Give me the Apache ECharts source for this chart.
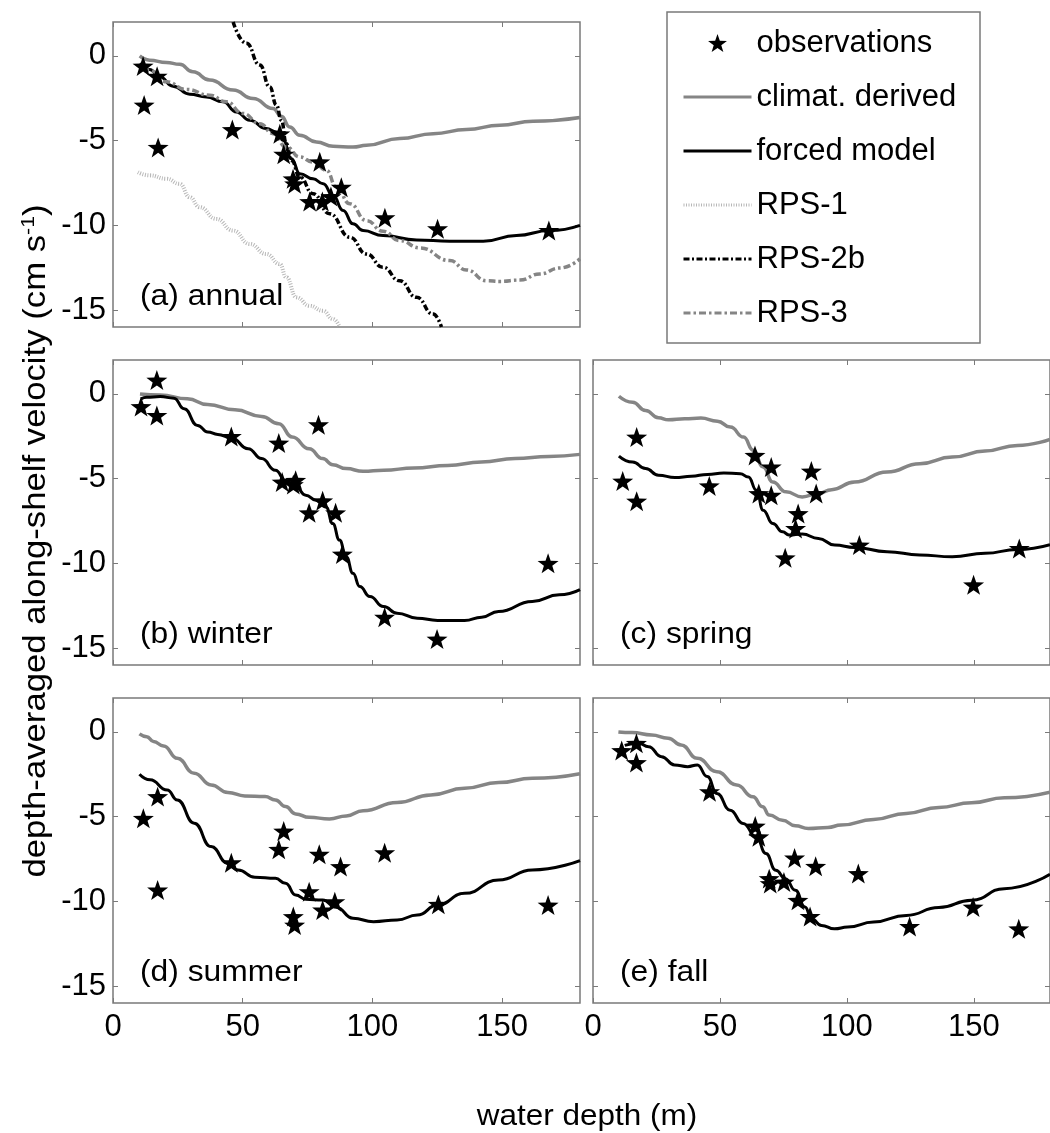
<!DOCTYPE html>
<html>
<head>
<meta charset="utf-8">
<script src="https://cdn.jsdelivr.net/npm/echarts@6/dist/echarts.min.js"></script>
<style>
  html, body { margin: 0; padding: 0; background: #fff; }
  #chart { width: 1050px; height: 1133px; }
</style>
</head>
<body>
<div id="chart"></div>
<script>
// tick values
const xTicks = [0, 50, 100, 150];
const yTicks = [-15, -10, -5, 0];

// (a) annual
const annualObs = [[11.6,-0.6],[12.0,-2.9],[17.0,-1.2],[17.4,-5.4],[46.0,-4.35],[64.3,-4.6],[65.8,-5.8],[69.4,-7.25],[70.0,-7.55],[75.8,-8.6],[80.7,-8.6],[79.7,-6.25],[84.0,-8.3],[88.0,-7.75],[104.8,-9.55],[125.1,-10.2],[168.0,-10.3]];
const annualClim = [[10.3,0],[14.1,-0.25],[20.6,-0.39],[25.7,-0.5],[30.8,-0.94],[37.3,-1.43],[46.3,-2.02],[54.0,-2.52],[61.7,-3.11],[64.9,-3.56],[68.1,-4.19],[72.0,-4.69],[78.4,-5.08],[84.8,-5.34],[92.5,-5.38],[97.7,-5.28],[110.5,-4.88],[123.4,-4.59],[136.2,-4.35],[149.1,-4.09],[161.9,-3.86],[180,-3.64]];
const annualForced = [[10.3,-0.45],[14.1,-0.8],[18.0,-1.23],[23.1,-1.79],[29.6,-2.26],[36.0,-2.42],[42.4,-2.71],[47.6,-3.31],[52.7,-3.8],[59.1,-4.29],[63.0,-4.49],[65.6,-4.98],[68.8,-6.07],[72.0,-6.95],[77.1,-7.25],[81.0,-7.55],[84.8,-8.24],[88.7,-9.12],[92.5,-9.91],[96.4,-10.31],[104.1,-10.6],[117,-10.86],[129.8,-10.94],[142.7,-10.94],[155.5,-10.6],[168.4,-10.31],[180,-10.0]];
const annualRps1 = [[9.6,-6.86],[14.1,-7.05],[20.6,-7.25],[25.7,-7.55],[29.6,-8.34],[33.4,-8.93],[39.8,-9.62],[46.3,-10.31],[52.7,-11.1],[59.1,-11.69],[64.3,-12.28],[66.8,-13.07],[70.7,-14.25],[75.8,-14.75],[80.9,-15.04],[84.8,-15.53],[87.4,-16]];
const annualRps2b = [[46.3,2],[51.4,0.74],[56.6,-0.54],[60.4,-1.83],[63.0,-2.91],[64.9,-3.8],[66.8,-5.18],[68.8,-6.17],[72.0,-7.15],[77.1,-8.14],[83.5,-9.32],[91.3,-10.7],[97.7,-11.69],[104.1,-12.48],[110.5,-13.27],[117,-14.25],[123.4,-15.24],[126.6,-16]];
const annualRps3 = [[9.6,-0.54],[14.1,-0.84],[20.6,-1.53],[28.3,-1.98],[37.3,-2.32],[43.7,-2.71],[50.1,-3.4],[56.6,-4.0],[61.7,-4.59],[66.8,-5.38],[72.0,-5.97],[77.1,-6.26],[82.3,-6.76],[86.1,-7.74],[91.3,-8.73],[97.7,-9.72],[104.1,-10.35],[110.5,-10.9],[118.3,-11.33],[129.8,-12.08],[136.2,-12.63],[144,-13.27],[149.1,-13.31],[156.8,-13.23],[164.5,-12.87],[172.2,-12.52],[180,-11.98]];

// (b) winter
const winterObs = [[10.8,-0.75],[16.9,0.82],[16.9,-1.27],[45.6,-2.51],[63.9,-2.9],[65.2,-5.2],[69.5,-5.35],[70.4,-5.1],[75.6,-7.02],[79.2,-1.82],[80.8,-6.31],[85.8,-7.02],[88.4,-9.45],[104.7,-13.18],[124.9,-14.47],[167.7,-10.0]];
const winterClim = [[10.4,0],[18.2,-0.06],[28.7,-0.29],[36.5,-0.63],[47.0,-0.94],[57.3,-1.33],[63.9,-1.76],[69.1,-2.55],[75.6,-3.24],[80.8,-3.82],[84.7,-4.18],[89.9,-4.41],[96.4,-4.57],[104.3,-4.51],[116,-4.37],[129,-4.22],[142,-4.02],[155,-3.82],[168,-3.69],[180,-3.57]];
const winterForced = [[10.8,-0.29],[13.0,-0.2],[18.2,-0.16],[23.5,-0.25],[27.4,-0.88],[32.6,-1.86],[36.5,-2.25],[40.4,-2.39],[45.6,-2.59],[52.1,-3.24],[57.3,-3.82],[62.6,-4.51],[66.5,-5.1],[70.4,-5.49],[74.3,-5.98],[78.2,-6.27],[82.1,-6.67],[84.7,-7.65],[87.3,-8.63],[89.9,-9.61],[92.5,-10.59],[95.1,-11.37],[99.0,-11.96],[104.3,-12.55],[109.5,-12.94],[117.3,-13.24],[125.1,-13.37],[135.5,-13.37],[142.1,-13.18],[148.6,-12.84],[161.6,-12.25],[172.0,-11.86],[180,-11.55]];

// (c) spring
const springObs = [[11.7,-5.14],[17.2,-2.55],[17.2,-6.33],[45.8,-5.43],[63.8,-3.63],[65.3,-5.88],[70.2,-4.31],[70.2,-5.98],[75.7,-9.67],[79.8,-7.94],[80.8,-7.06],[86.0,-4.55],[87.9,-5.88],[104.9,-8.92],[149.9,-11.27],[167.9,-9.12]];
const springClim = [[10.2,-0.14],[15.6,-0.49],[20.7,-0.98],[25.8,-1.41],[29.7,-1.53],[36.1,-1.47],[42.5,-1.43],[49,-1.61],[54.1,-1.96],[59.3,-2.55],[63.1,-3.33],[67,-4.31],[70.8,-5.2],[76,-5.78],[82.4,-6.08],[88.8,-5.88],[94,-5.65],[103,-5.2],[115.8,-4.61],[128.7,-4.12],[141.5,-3.73],[154.4,-3.37],[167.2,-3.04],[180,-2.68]];
const springForced = [[10.2,-3.67],[15.6,-4.02],[20.7,-4.41],[25.8,-4.8],[32.3,-4.94],[38.7,-4.86],[45.1,-4.75],[51.5,-4.67],[58.0,-4.71],[61.2,-4.9],[64.4,-5.69],[67,-6.86],[70.8,-7.65],[74.7,-8.14],[77.2,-8.33],[82.4,-8.27],[88.8,-8.53],[95.2,-8.92],[103,-9.06],[115.8,-9.31],[128.7,-9.51],[141.5,-9.61],[154.4,-9.41],[167.2,-9.18],[180,-8.9]];

// (d) summer
const summerObs = [[11.7,-5.1],[17.2,-3.82],[17.2,-9.33],[45.6,-7.72],[63.9,-6.93],[65.8,-5.85],[69.5,-10.9],[70.0,-11.4],[75.6,-9.43],[79.5,-7.22],[80.8,-10.51],[85.5,-10.02],[87.7,-7.95],[104.7,-7.13],[125.4,-10.18],[167.7,-10.22]];
const summerClim = [[10.2,-0.12],[13,-0.28],[15.6,-0.57],[19.5,-0.83],[24.8,-1.56],[31.3,-2.44],[37.8,-3.13],[44.3,-3.58],[50.8,-3.78],[58.6,-3.82],[62.6,-4.02],[66.5,-4.41],[70.4,-4.84],[75.6,-5.04],[83.4,-5.14],[89.9,-4.96],[96.4,-4.65],[109.5,-4.17],[122.5,-3.72],[135.5,-3.33],[148.6,-2.99],[161.6,-2.74],[180,-2.47]];
const summerForced = [[10.2,-2.5],[14.3,-2.83],[20.9,-3.43],[24.8,-4.02],[31.3,-5.39],[37.8,-6.77],[44.3,-7.76],[48.2,-8.15],[54.7,-8.58],[62.6,-8.64],[66.5,-8.94],[70.4,-9.63],[74.3,-9.88],[80.8,-9.92],[86,-10.35],[92.5,-11],[100.4,-11.2],[109.5,-11.1],[117.3,-10.81],[125.1,-10.22],[135.5,-9.53],[148.6,-8.74],[161.6,-8.15],[180,-7.6]];

// (e) fall
const fallObs = [[11.3,-1.1],[17.1,-0.67],[17.1,-1.81],[45.9,-3.53],[63.9,-5.56],[65.3,-6.19],[69.4,-8.66],[69.8,-8.95],[75.2,-8.86],[79.4,-7.44],[80.7,-9.94],[85.5,-10.89],[87.7,-7.93],[104.5,-8.36],[124.7,-11.48],[149.7,-10.34],[167.7,-11.62]];
const fallClim = [[10,0],[15.4,-0.04],[23.1,-0.18],[29.6,-0.37],[34.7,-0.77],[41.1,-1.56],[48.8,-2.35],[56.6,-3.14],[63,-3.83],[66.8,-4.42],[69.4,-4.91],[74.6,-5.21],[79.7,-5.54],[84.8,-5.7],[92.5,-5.64],[97.7,-5.5],[110.5,-5.17],[123.4,-4.81],[136.2,-4.46],[149.1,-4.18],[162,-3.89],[180,-3.56]];
const fallForced = [[12.5,-0.8],[18,-0.67],[21.9,-0.87],[27,-1.46],[32.1,-1.95],[37.3,-2.05],[41.1,-1.95],[45,-2.64],[48.8,-3.63],[54,-4.62],[59.1,-5.4],[64.3,-6.19],[68.1,-7.18],[72,-8.17],[75.8,-8.66],[79.7,-9.35],[83.5,-10.34],[86.1,-11.03],[90,-11.42],[95.1,-11.62],[100.3,-11.52],[110.5,-11.22],[123.4,-10.83],[136.2,-10.37],[149.1,-9.94],[162,-9.25],[180,-8.4]];

const panelLabels = ['(a) annual', '(b) winter', '(c) spring', '(d) summer', '(e) fall'];

// layout, px
const FONT = '"Liberation Sans", Arial, Helvetica, sans-serif';
const BOX = '#7a7a7a';
const GRIDS = [[113, 22], [113, 360], [593, 360], [113, 698], [593, 698]];
const GW = 467, GH = 305;
const STAR = 'path://M0,-10L2.35,-3.24L9.51,-3.09L3.8,1.24L5.88,8.09L0,4L-5.88,8.09L-3.8,1.24L-9.51,-3.09L-2.35,-3.24Z';

const styles = {
  'climat. derived': { color: '#858585', width: 3.5, type: 'solid' },
  'forced model':    { color: '#000000', width: 3, type: 'solid' },
  'RPS-1':           { color: '#b8b8b8', width: 4, type: [1, 1.5] },
  'RPS-2b':          { color: '#000000', width: 3.5, type: [6, 2.5, 2, 2.5] },
  'RPS-3':           { color: '#858585', width: 3.5, type: [7, 3, 2.5, 3] }
};

let panels = [
  { obs: annualObs, lines: { 'climat. derived': annualClim, 'forced model': annualForced, 'RPS-1': annualRps1, 'RPS-2b': annualRps2b, 'RPS-3': annualRps3 }, yLab: true, xLab: false },
  { obs: winterObs, lines: { 'climat. derived': winterClim, 'forced model': winterForced }, yLab: true, xLab: false },
  { obs: springObs, lines: { 'climat. derived': springClim, 'forced model': springForced }, yLab: false, xLab: false },
  { obs: summerObs, lines: { 'climat. derived': summerClim, 'forced model': summerForced }, yLab: true, xLab: true },
  { obs: fallObs, lines: { 'climat. derived': fallClim, 'forced model': fallForced }, yLab: false, xLab: true }
];

let grid = [], xAxis = [], yAxis = [], series = [], graphic = [];

function tickStyle(values) {
  return { show: true, inside: true, length: 5, customValues: values, lineStyle: { color: BOX, width: 1 } };
}

function labelStyle(show, values, margin) {
  return { show: show, customValues: values, margin: margin, color: '#000', fontSize: 31, fontFamily: FONT };
}

panels.forEach((p, i) => {
  let [left, top] = GRIDS[i];
  grid.push({ left: left, top: top, width: GW, height: GH, show: true, borderColor: BOX, borderWidth: 1.5, backgroundColor: 'transparent' });

  ['bottom', 'top'].forEach(pos => {
    xAxis.push({
      type: 'value', gridIndex: i, position: pos, min: 0, max: 180,
      axisLine: { show: false, onZero: false }, splitLine: { show: false },
      axisTick: tickStyle(xTicks),
      axisLabel: labelStyle(pos === 'bottom' && p.xLab, xTicks, 9)
    });
  });
  ['left', 'right'].forEach(pos => {
    yAxis.push({
      type: 'value', gridIndex: i, position: pos, min: -16, max: 2,
      axisLine: { show: false, onZero: false }, splitLine: { show: false },
      axisTick: tickStyle(yTicks),
      axisLabel: labelStyle(pos === 'left' && p.yLab, yTicks, 7)
    });
  });

  Object.keys(p.lines).forEach(name => {
    let s = styles[name];
    series.push({
      name: name, type: 'line', xAxisIndex: 2 * i, yAxisIndex: 2 * i,
      data: p.lines[name], symbol: 'none', smooth: 0.5, smoothMonotone: 'x', clip: true,
      lineStyle: { color: s.color, width: s.width, type: s.type },
      itemStyle: { color: s.color },
      z: 2
    });
  });

  series.push({
    name: 'observations', type: 'scatter', xAxisIndex: 2 * i, yAxisIndex: 2 * i,
    data: p.obs, symbol: STAR, symbolSize: 21, symbolKeepAspect: true,
    itemStyle: { color: '#000', opacity: 1 }, z: 5
  });

  graphic.push({
    type: 'text', x: left + 27, y: top + GH - 30, scaleX: 1.06,
    style: { text: panelLabels[i], font: '30px ' + FONT, fill: '#000', verticalAlign: 'middle' }
  });
});

// legend frame
graphic.push({
  type: 'rect', shape: { x: 667, y: 12, width: 313, height: 331 },
  style: { fill: '#fff', stroke: BOX, lineWidth: 1.5 }, z: -1
});

// axis titles
graphic.push({
  type: 'text', x: 36, y: 541, rotation: Math.PI / 2, scaleX: 1.12,
  style: {
    text: '{a|depth-averaged along-shelf velocity (cm s}{b|-1}{a|)}',
    align: 'center', verticalAlign: 'middle', fill: '#000',
    rich: {
      a: { fontSize: 31, fontFamily: FONT, lineHeight: 33, fill: '#000' },
      b: { fontSize: 19, fontFamily: FONT, lineHeight: 19, verticalAlign: 'top', fill: '#000' }
    }
  }
});
graphic.push({
  type: 'text', x: 587, y: 1117, scaleX: 1.05,
  style: { text: 'water depth (m)', font: '30px ' + FONT, fill: '#000', align: 'center', verticalAlign: 'middle' }
});

const noDot = { opacity: 0 };

let chart = echarts.init(document.getElementById('chart'), null, { renderer: 'canvas' });
chart.setOption({
  animation: false,
  backgroundColor: '#fff',
  grid: grid,
  xAxis: xAxis,
  yAxis: yAxis,
  legend: {
    orient: 'vertical', left: 682, top: 26, padding: 0,
    itemWidth: 68, itemHeight: 18, itemGap: 20, selectedMode: false,
    textStyle: { fontSize: 31, fontFamily: FONT, color: '#000', lineHeight: 34 },
    lineStyle: { width: 3 },
    data: [
      { name: 'observations', icon: STAR },
      { name: 'climat. derived', itemStyle: noDot },
      { name: 'forced model', itemStyle: noDot },
      { name: 'RPS-1', itemStyle: noDot },
      { name: 'RPS-2b', itemStyle: noDot },
      { name: 'RPS-3', itemStyle: noDot }
    ]
  },
  graphic: graphic,
  series: series
});
</script>
</body>
</html>
